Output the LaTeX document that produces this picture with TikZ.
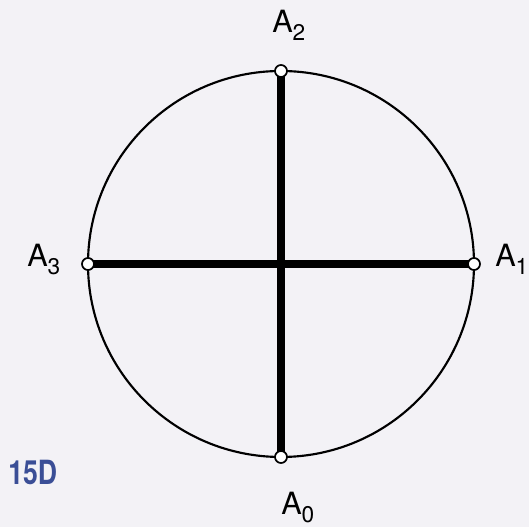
\documentclass[tikz,border=0pt]{standalone}
\usepackage{fontspec}
\setmainfont{TeX Gyre Heros}
\usepackage{xcolor}
\usepackage{tikz}
\usetikzlibrary{positioning, calc}
\definecolor{paper}{RGB}{243, 242, 246}
\definecolor{pagemark}{RGB}{58, 78, 150}
\newcommand{\Alab}[1]{A\raisebox{-5.6pt}{\fontsize{17}{17}\selectfont #1}}

\begin{document}
\begin{tikzpicture}[
    x=0.75pt, y=0.75pt,
    rim/.style={draw, line width=1.6pt},
    diameter/.style={line width=5.5pt},
    vertex/.style={circle, draw, fill=white, line width=1.3pt, inner sep=0pt, minimum size=9pt},
    lab/.style={anchor=base west, inner sep=0pt, font=\fontsize{23}{26}\selectfont},
    pagelabel/.style={anchor=base west, inner sep=0pt, text=pagemark, font=\fontsize{25}{28}\selectfont\bfseries}
]

% Page
\fill[paper] (0,0) rectangle (529,527);
\useasboundingbox (0,0) rectangle (529,527);

% Circle
\coordinate (o) at (281,263);
\draw[rim] (o) circle (193);

% Diameters
\coordinate (p0) at (281,70);
\coordinate (p1) at (474,263);
\coordinate (p2) at (281,456);
\coordinate (p3) at (88,263);
\draw[diameter] (p3) -- (p1);
\draw[diameter] (p2) -- (p0);

% Points
\node[vertex] (a0) at (p0) {};
\node[vertex] (a1) at (p1) {};
\node[vertex] (a2) at (p2) {};
\node[vertex] (a3) at (p3) {};

% Labels
\node[lab] (l0) at (281,12) {\Alab{0}};
\node[lab] (l1) at (495,260) {\Alab{1}};
\node[lab] (l2) at (272,494) {\Alab{2}};
\node[lab] (l3) at (27,260) {\Alab{3}};

% Page number
\node[pagelabel] (fig) at (8,42) {\scalebox{0.8}[1]{15D}};

\end{tikzpicture}
\end{document}
